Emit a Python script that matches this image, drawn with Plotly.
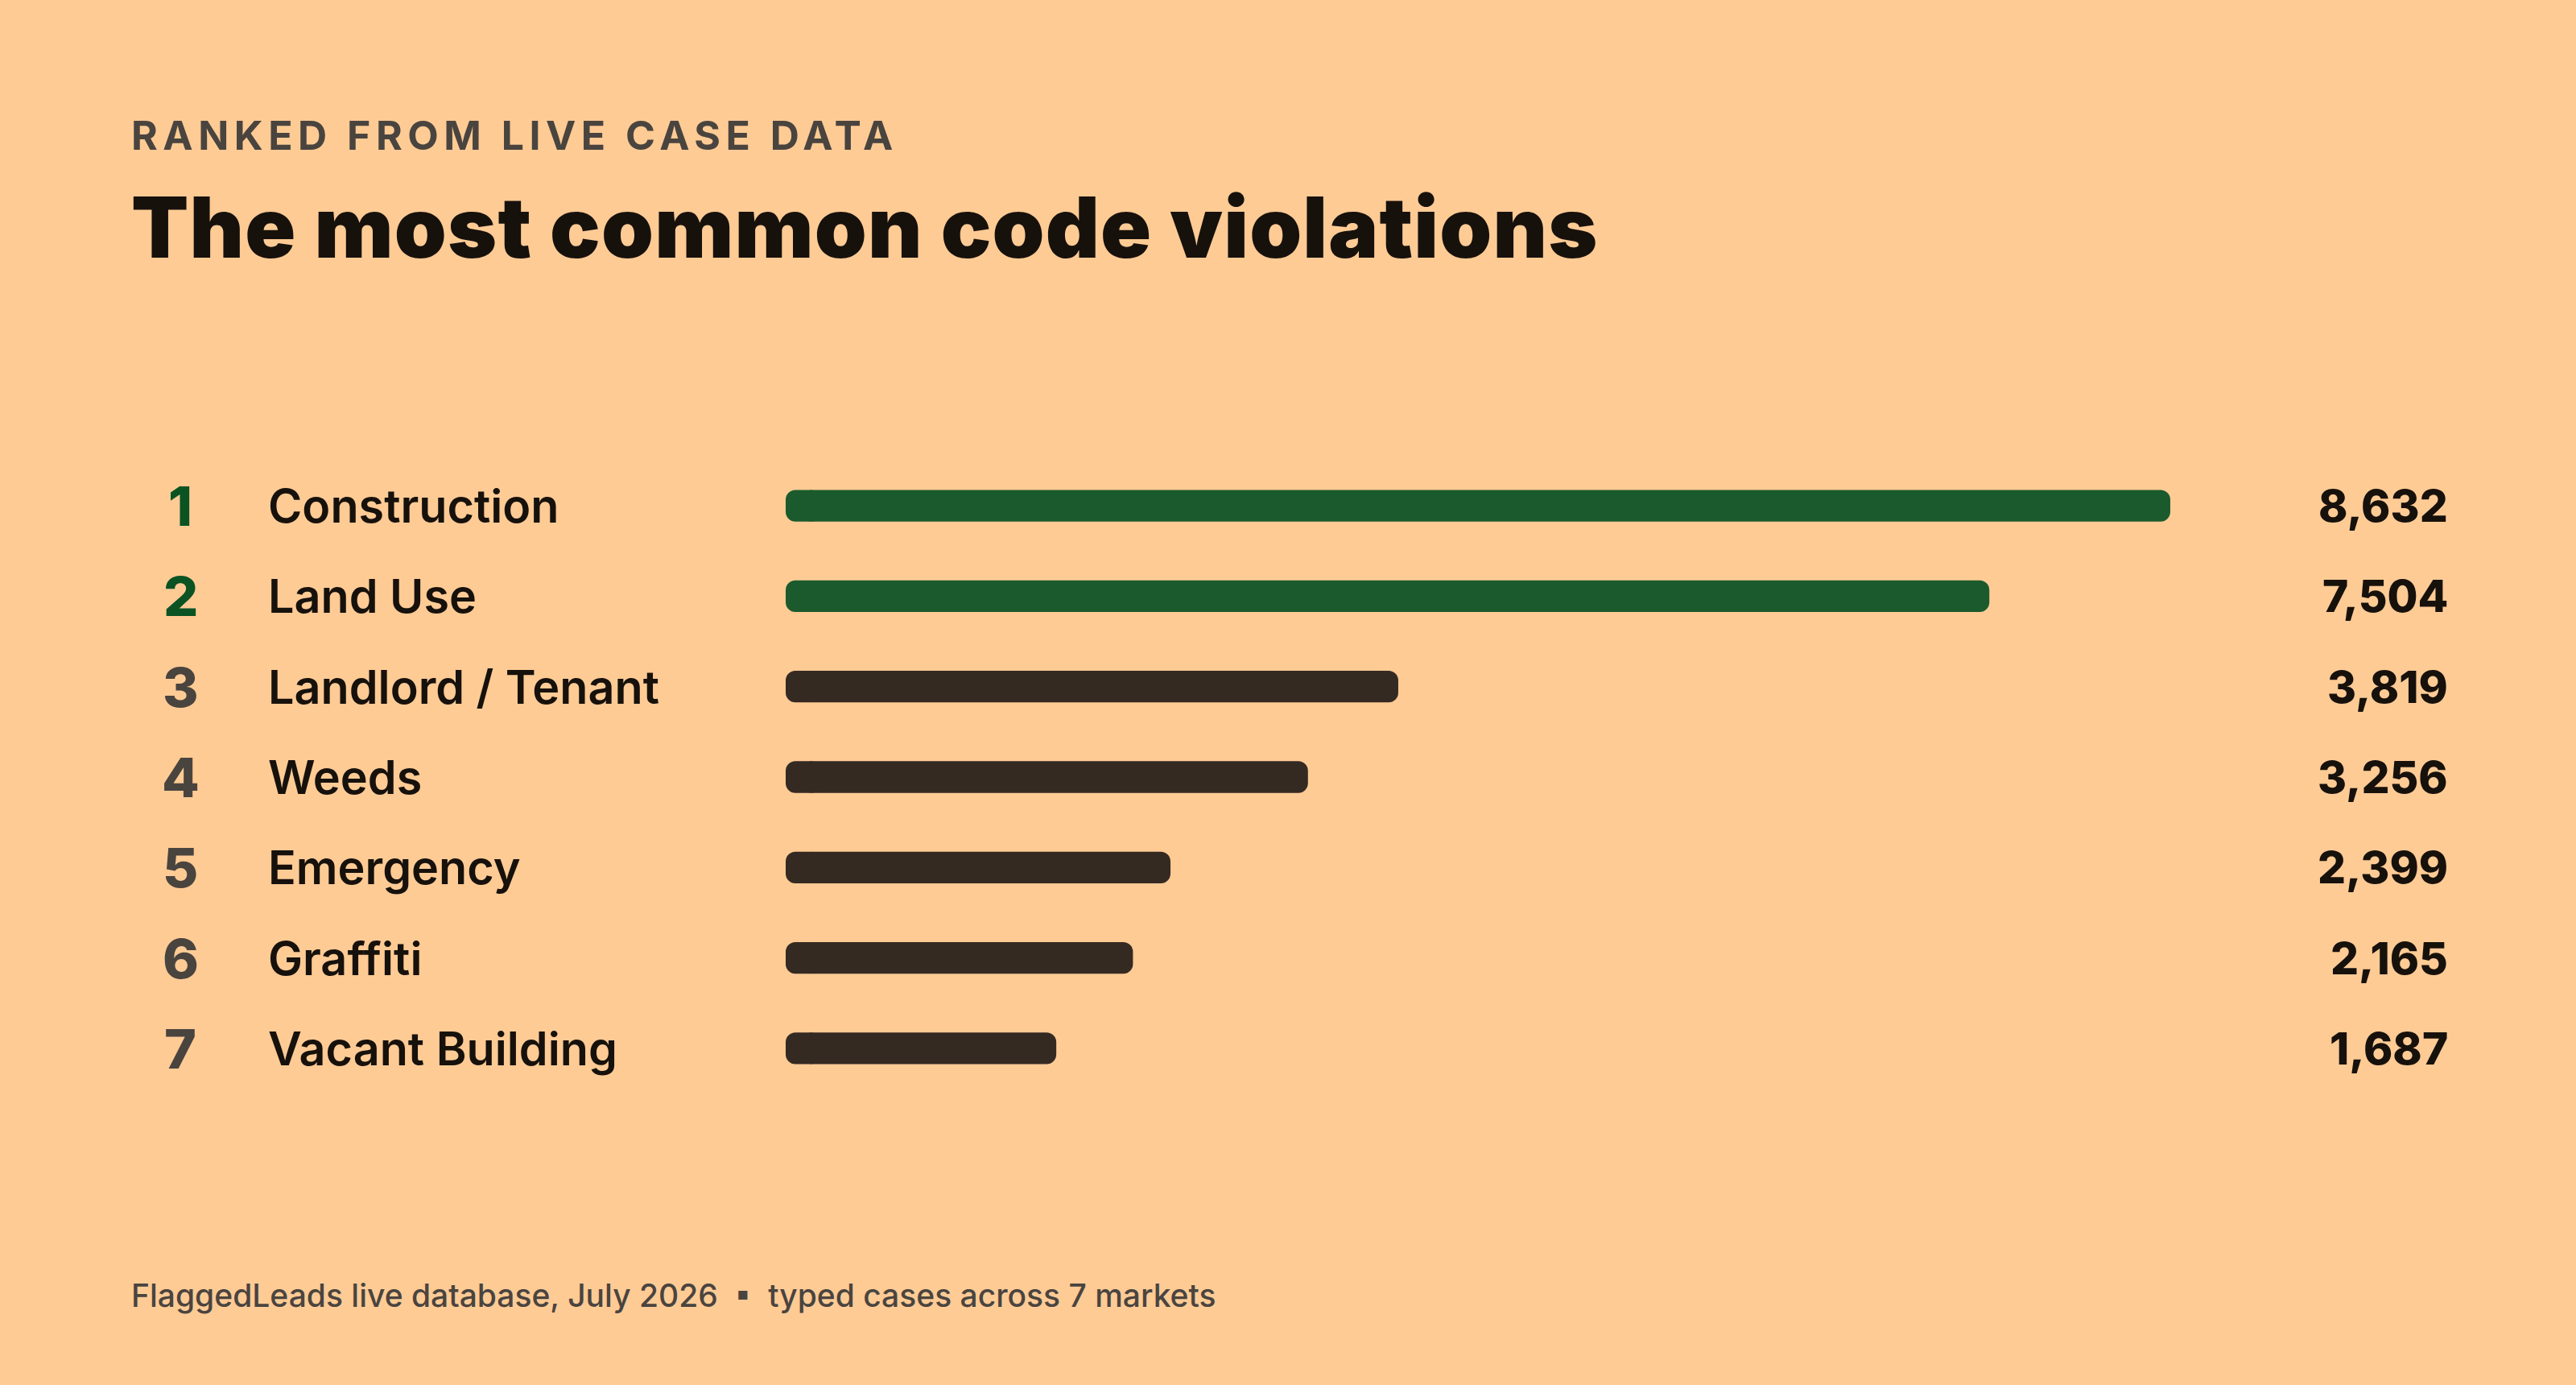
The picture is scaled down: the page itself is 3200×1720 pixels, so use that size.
import plotly.graph_objects as go

# data
ranks = ["1", "2", "3", "4", "5", "6", "7"]
categories = ["Construction", "Land Use", "Landlord / Tenant", "Weeds",
              "Emergency", "Graffiti", "Vacant Building"]
cases = [8632, 7504, 3819, 3256, 2399, 2165, 1687]
highlight_top = 2

W, H = 3200, 1720
BG = "#FECB95"
INK = "#17110C"
GREY = "#4A443F"
GREEN_BAR = "#1B5A2D"
GREEN_TXT = "#0B5323"
DARK_BAR = "#352A22"
FONT = "Inter"

bar_colors = [GREEN_BAR if i < highlight_top else DARK_BAR for i in range(len(cases))]

fig = go.Figure()
# main bar plus a short cap at the base, so both ends get rounded corners
cap = max(cases) * 0.025
start = max(cases) * 0.012
fig.add_trace(go.Bar(
    x=[v - start for v in cases], base=[start] * len(cases),
    y=categories, orientation="h",
    marker=dict(color=bar_colors, cornerradius=12, line=dict(width=0)),
    width=0.35, hoverinfo="skip",
))
fig.add_trace(go.Bar(
    x=[-cap] * len(cases), base=[cap] * len(cases),
    y=categories, orientation="h",
    marker=dict(color=bar_colors, cornerradius=12, line=dict(width=0)),
    width=0.35, hoverinfo="skip",
))

# row text: rank, label, value
for i, (r, cat, v) in enumerate(zip(ranks, categories, cases)):
    fig.add_annotation(x=224 / W, y=cat, xref="paper", yref="y", text=r,
                       showarrow=False, xanchor="center", yanchor="middle",
                       font=dict(family=FONT, size=68, weight=800,
                                 color=GREEN_TXT if i < highlight_top else GREY))
    fig.add_annotation(x=331 / W, y=cat, xref="paper", yref="y", text=cat,
                       showarrow=False, xanchor="left", yanchor="middle",
                       font=dict(family=FONT, size=57.5, weight=600, color=INK))
    fig.add_annotation(x=3043 / W, y=cat, xref="paper", yref="y", text=f"{v:,}",
                       showarrow=False, xanchor="right", yanchor="middle",
                       font=dict(family=FONT, size=55, weight=800, color=INK))

# header and footer
fig.add_annotation(x=161 / W, y=1 - 168 / H, xref="paper", yref="paper",
                   text='<span style="letter-spacing:6.5px">RANKED FROM LIVE CASE DATA</span>',
                   showarrow=False, xanchor="left", yanchor="middle",
                   font=dict(family=FONT, size=50, weight=700, color=GREY))
fig.add_annotation(x=161 / W, y=1 - 282 / H, xref="paper", yref="paper",
                   text='<span style="letter-spacing:1.2px">The most common code violations</span>',
                   showarrow=False, xanchor="left", yanchor="middle",
                   font=dict(family=FONT, size=104, weight=900, color=INK))
fig.add_annotation(x=161 / W, y=1 - 1608 / H, xref="paper", yref="paper",
                   text="FlaggedLeads live database, July 2026  \u25aa  typed cases across 7 markets",
                   showarrow=False, xanchor="left", yanchor="middle",
                   font=dict(family=FONT, size=39, weight=500, color=GREY))

fig.update_layout(
    width=W, height=H,
    paper_bgcolor=BG, plot_bgcolor=BG,
    margin=dict(l=0, r=0, t=0, b=0),
    showlegend=False,
    barmode="overlay",
    xaxis=dict(domain=[976 / W, 2696 / W], range=[0, max(cases)],
               visible=False, fixedrange=True),
    yaxis=dict(domain=[1 - 1358 / H, 1 - 572 / H], autorange="reversed",
               visible=False, fixedrange=True),
)

fig.write_html("out.html", config={"displayModeBar": False},
               post_script="document.body.style.margin='0';")
